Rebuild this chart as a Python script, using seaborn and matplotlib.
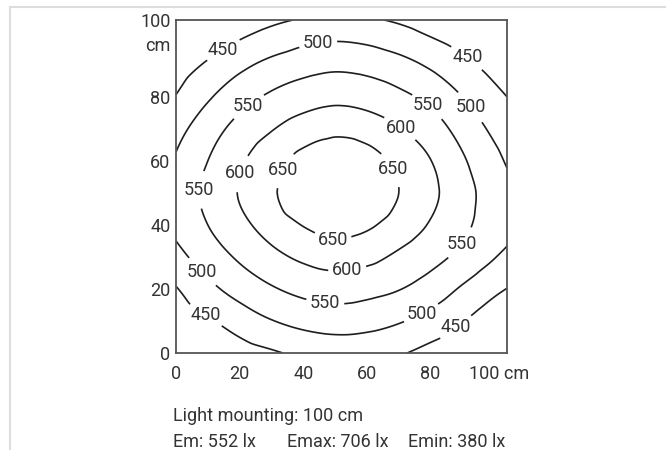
import numpy as np
import matplotlib
matplotlib.use("Agg")
import matplotlib.pyplot as plt
import matplotlib.tri as mtri
import matplotlib.transforms as mtransforms
import seaborn as sns
from matplotlib.patches import Rectangle

x_cm = [0, 10, 20, 30, 40, 50, 60, 70, 80, 90, 100, 104]
y_cm = [104, 100, 90, 80, 70, 60, 50, 40, 30, 20, 10, 0]
lux = [
    [386, 405, 424, 441, 454, 462, 456, 444, 427, 408, 390, 383],
    [398, 418, 440, 460, 477, 485, 479, 464, 444, 423, 402, 394],
    [425, 456, 488, 513, 530, 539, 533, 517, 493, 463, 433, 422],
    [452, 494, 531, 558, 577, 587, 580, 562, 537, 500, 463, 450],
    [484, 527, 567, 597, 622, 636, 626, 603, 573, 532, 490, 476],
    [505, 550, 593, 630, 666, 689, 673, 637, 601, 556, 512, 496],
    [518, 562, 603, 642, 687, 704, 692, 650, 611, 570, 524, 511],
    [511, 550, 587, 621, 652, 675, 658, 628, 596, 562, 523, 513],
    [485, 523, 557, 586, 609, 621, 613, 591, 566, 537, 502, 490],
    [447, 487, 519, 545, 564, 573, 566, 552, 528, 494, 460, 449],
    [418, 444, 473, 498, 515, 523, 518, 504, 482, 452, 422, 414],
    [389, 408, 428, 444, 460, 468, 466, 455, 434, 414, 393, 385],
]
levels = [450, 500, 550, 600, 650]

tick_pos = [0, 20, 40, 60, 80, 104]
x_labels = ["0", "20", "40", "60", "80", "100 cm"]
y_labels = ["0", "20", "40", "60", "80", "100"]
mounting = "Light mounting: 100 cm"
stats = ["Em: 552 lx", "Emax: 706 lx", "Emin: 380 lx"]

# where the contour labels sit
label_pos = [
    (15.4, 93.8), (91, 91.6), (9.8, 12.5), (87.9, 8.1),
    (44.7, 96.3), (92.6, 76.9), (8.2, 25.3), (77.5, 11.6),
    (22.4, 77.5), (79.4, 77.5), (8.5, 50.9), (90.1, 33.8), (46.9, 15.9),
    (69.6, 69.1), (21.7, 55.6), (53.9, 25.3),
    (35.3, 56.3), (66.5, 56.6), (49.4, 36.3),
]

sns.set_theme(style="white")
plt.rcParams["font.family"] = ["Liberation Sans Narrow", "DejaVu Sans Condensed", "Roboto"]
txt_col = "#333333"
fs = 13

fig = plt.figure(figsize=(6.66, 4.5), dpi=100)
fig.patches.append(Rectangle((10 / 666, -0.1), 1.0, 1 - 7 / 450 + 0.1,
                             transform=fig.transFigure, fill=False,
                             edgecolor="#dddddd", linewidth=1.5))

ax = fig.add_axes([176 / 666, 1 - 353 / 450, 331 / 666, 333 / 450])

X, Y = np.meshgrid(x_cm, y_cm)
Z = np.array(lux, dtype=float).ravel()
tri = mtri.Triangulation(X.ravel(), Y.ravel())
interp = mtri.CubicTriInterpolator(tri, Z, kind="geom")
tri_f, z_f = mtri.UniformTriRefiner(tri).refine_field(Z, triinterpolator=interp, subdiv=4)

cs = ax.tricontour(tri_f, z_f, levels=levels, colors="#1e1e1e", linewidths=1.2)
texts = ax.clabel(cs, fmt="%d", fontsize=fs, colors=txt_col, manual=label_pos,
                  inline=True, inline_spacing=4)
for t in texts:
    t.set_rotation(0)

ax.set_xlim(0, 104)
ax.set_ylim(0, 104)
ax.set_xticks(tick_pos)
ax.set_xticklabels(x_labels)
ax.set_yticks(tick_pos)
ax.set_yticklabels(y_labels)
ax.tick_params(axis="both", direction="out", length=3.5, width=1, color="#555555",
               labelsize=fs, labelcolor=txt_col)
ax.tick_params(axis="y", pad=0.5)
ax.tick_params(axis="x", pad=5)
for s in ax.spines.values():
    s.set_color("#555555")
    s.set_linewidth(1.3)
ax.set_xlabel("")
ax.set_ylabel("")

# "100 cm" sits a little left of the corner tick
last = ax.get_xticklabels()[-1]
last.set_transform(last.get_transform() + mtransforms.ScaledTranslation(-8 / 100, 0, fig.dpi_scale_trans))

fig.text(171 / 666, 1 - 46 / 450, "cm", ha="right", va="center", fontsize=fs, color=txt_col)
fig.text(173 / 666, 1 - 421 / 450, mounting, ha="left", va="baseline", fontsize=fs, color=txt_col)
for xp, s in zip([173, 287, 408], stats):
    fig.text(xp / 666, 1 - 447 / 450, s, ha="left", va="baseline", fontsize=fs, color=txt_col)

fig.savefig("out.png", dpi=100)
